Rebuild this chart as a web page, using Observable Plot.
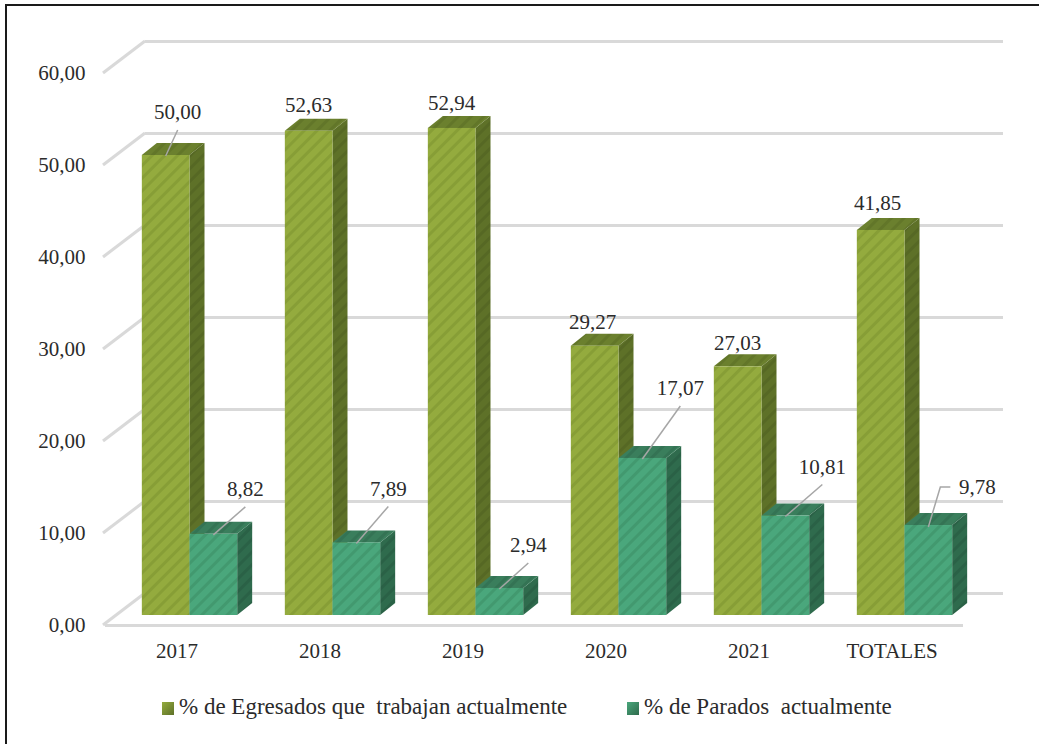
<!DOCTYPE html>
<html><head><meta charset="utf-8">
<script src="https://cdn.jsdelivr.net/npm/d3@7"></script>
<script src="https://cdn.jsdelivr.net/npm/@observablehq/plot@0.6"></script>
<style>
html,body{margin:0;padding:0;background:#fff;overflow:hidden;width:1039px;height:744px}
#frame{position:absolute;left:5px;top:4px;width:1100px;height:800px;border-left:2px solid #1a1a1a;border-top:2px solid #1a1a1a;box-sizing:border-box}
#chart{position:absolute;left:0;top:0}
.leg{position:absolute;top:694px;font-family:"Liberation Serif","Times New Roman",Tinos,"DejaVu Serif",serif;font-size:23px;line-height:26px;color:#2b2b2b;white-space:pre}
.sw{display:inline-block;width:12px;height:13px;margin-right:5px;vertical-align:-1px}
</style></head>
<body><div id="frame"></div><div id="chart"></div>
<div class="leg" id="leg0" style="left:162px"></div>
<div class="leg" id="leg1" style="left:627px"></div>
<script>
// ---- data ----
const categories = ["2017", "2018", "2019", "2020", "2021", "TOTALES"];
const seriesNames = ["% de Egresados que  trabajan actualmente", "% de Parados  actualmente"];
const egresados = [50.00, 52.63, 52.94, 29.27, 27.03, 41.85];
const parados = [8.82, 7.89, 2.94, 17.07, 10.81, 9.78];
const yTicks = [0, 10, 20, 30, 40, 50, 60];

// ---- style / layout config ----
const fontStack = '"Liberation Serif","Times New Roman",Tinos,"DejaVu Serif",serif';
const colors = [
  {front: "#94ab3e", stripe: "#879e36", side: "#5e7128", sideStripe: "#566824", top: "#6b802e", topStripe: "#627629"},
  {front: "#4aa77c", stripe: "#42996f", side: "#2f6b4d", sideStripe: "#2a6146", top: "#3a7e5c", topStripe: "#347354"}
];
const wall = {dx: 40, dy: -32};       // back wall offset (px)
const barPlane = {dx: 13, dy: -10};   // bars' front plane offset (px)
const barDepth = {dx: 15, dy: -12};   // bar depth (px)
// label nudges (px from bar front-top center) and leader style
const labelLayout = [
  [[12, -43, "v"], [32, -45, "v"]],
  [[0, -26, null], [32, -54, "v"]],
  [[0, -25, null], [29, -43, "v"]],
  [[-2, -24, null], [38, -70, "v"]],
  [[0, -24, null], [37, -49, "v"]],
  [[-3, -27, null], [49, -38, "h"]]
];
const fmt = v => v.toFixed(2).replace(".", ",");
const series = [egresados, parados];

function patterns(g) {
  const defs = g.append("defs");
  colors.forEach((c, s) => {
    [["f", c.front, c.stripe], ["s", c.side, c.sideStripe], ["t", c.top, c.topStripe]].forEach(([k, base, st]) => {
      const p = defs.append("pattern").attr("id", `pat${s}${k}`).attr("patternUnits", "userSpaceOnUse")
        .attr("width", 9).attr("height", 9).attr("patternTransform", "rotate(45)");
      p.append("rect").attr("width", 9).attr("height", 9).attr("fill", base);
      p.append("rect").attr("width", 3).attr("height", 9).attr("fill", st);
    });
  });
}

function wallDiagonals(index, scales) {
  const {x, y} = scales;
  const x0 = x.range()[0];
  const g = d3.create("svg:g");
  yTicks.forEach(t => {
    g.append("line").attr("x1", x0 - 2).attr("y1", y(t)).attr("x2", x0 + wall.dx).attr("y2", y(t) + wall.dy)
      .attr("stroke", "#d9d9d9").attr("stroke-width", 3);
  });
  return g.node();
}

function geom(scales, i, s) {
  const {x, y} = scales;
  const bw = x.bandwidth();
  const barW = bw / 3;
  const x0 = x(categories[i]) + bw / 2 - barW + s * barW + barPlane.dx;
  const x1 = x0 + barW;
  const yb = y(0) + barPlane.dy;
  const yt = y(series[s][i]) + barPlane.dy;
  return {x0, x1, yb, yt, cx: (x0 + x1) / 2};
}

function bars3d(index, scales) {
  const g = d3.create("svg:g");
  patterns(g);
  const {dx, dy} = barDepth;
  categories.forEach((c, i) => {
    [0, 1].forEach(s => {
      const {x0, x1, yb, yt} = geom(scales, i, s);
      g.append("path").attr("d", `M${x1},${yb}L${x1},${yt}L${x1 + dx},${yt + dy}L${x1 + dx},${yb + dy}Z`)
        .attr("fill", `url(#pat${s}s)`);
      g.append("path").attr("d", `M${x0},${yt}L${x1},${yt}L${x1 + dx},${yt + dy}L${x0 + dx},${yt + dy}Z`)
        .attr("fill", `url(#pat${s}t)`);
      g.append("rect").attr("x", x0).attr("y", yt).attr("width", x1 - x0).attr("height", yb - yt)
        .attr("fill", `url(#pat${s}f)`);
    });
  });
  return g.node();
}

function dataLabels(index, scales) {
  const g = d3.create("svg:g").attr("font-family", fontStack);
  categories.forEach((c, i) => {
    [0, 1].forEach(s => {
      const {cx, yt} = geom(scales, i, s);
      const [ndx, ndy, kind] = labelLayout[i][s];
      const lx = cx + ndx, ly = yt + ndy;
      if (kind === "v") {
        g.append("path").attr("d", `M${lx},${ly + 18}L${cx},${yt + 1}`)
          .attr("stroke", "#a6a6a6").attr("stroke-width", 1.5).attr("fill", "none");
      } else if (kind === "h") {
        g.append("path").attr("d", `M${lx - 27},${ly}L${lx - 37},${ly}L${cx},${yt + 2}`)
          .attr("stroke", "#a6a6a6").attr("stroke-width", 1.5).attr("fill", "none");
      }
      g.append("text").attr("x", lx).attr("y", ly).attr("dy", "0.35em").attr("text-anchor", "middle")
        .attr("fill", "#2b2b2b").text(fmt(series[s][i]));
    });
  });
  return g.node();
}

const chart = Plot.plot({
  width: 1039, height: 680,
  marginLeft: 105, marginRight: 76, marginTop: 73, marginBottom: 55,
  x: {type: "band", domain: categories, padding: 0, tickSize: 0, tickPadding: 18, label: null},
  y: {domain: [0, 60], ticks: yTicks, tickSize: 0, tickPadding: 20, tickFormat: fmt, label: null},
  style: {fontFamily: fontStack, fontSize: "21px", color: "#2b2b2b", background: "transparent", overflow: "visible"},
  marks: [
    Plot.ruleY(yTicks, {y: d => d, dx: wall.dx, dy: wall.dy, stroke: "#d9d9d9", strokeWidth: 3}),
    Plot.ruleY([0], {y: d => d, stroke: "#d9d9d9", strokeWidth: 3}),
    wallDiagonals,
    bars3d,
    dataLabels
  ]
});
chart.setAttribute("font-family", fontStack);
document.getElementById("chart").appendChild(chart);

seriesNames.forEach((name, s) => {
  const el = document.getElementById("leg" + s);
  const sw = document.createElement("span");
  sw.className = "sw";
  sw.style.background = `linear-gradient(135deg, ${colors[s].front}, ${colors[s].side})`;
  el.appendChild(sw);
  el.appendChild(document.createTextNode(name));
});
</script>
</body></html>
